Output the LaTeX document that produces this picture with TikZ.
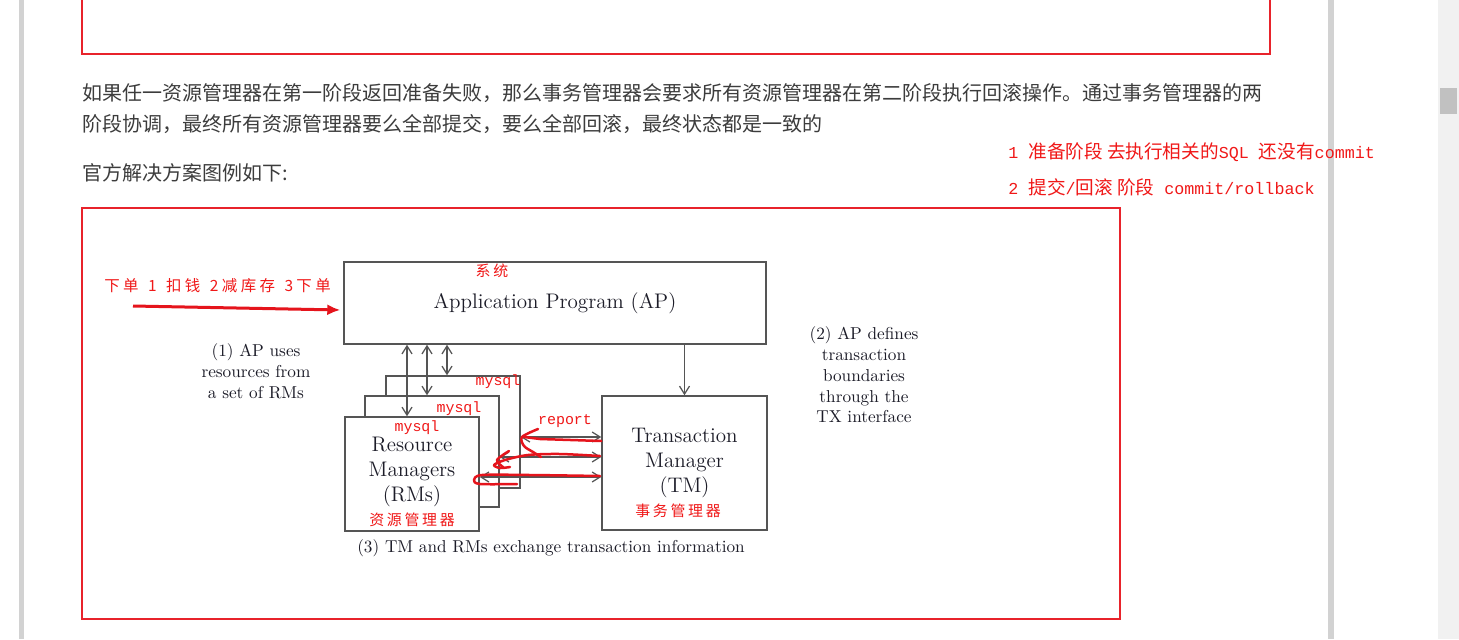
\documentclass[tikz,border=0pt]{standalone}
\usepackage{fontspec}
\newfontfamily\cjk{Noto Sans CJK SC}
\newfontfamily\cjkancho[LetterSpace=18]{Noto Sans CJK SC}
\newfontfamily\cjkabierto[LetterSpace=22]{Noto Sans CJK SC}
\newfontfamily\mono{Liberation Mono}
\usetikzlibrary{arrows.meta,positioning,calc}
\definecolor{RojoMarco}{HTML}{E8232B}
\definecolor{RojoNota}{HTML}{F01818}
\definecolor{RojoTrazo}{HTML}{E5141C}
\definecolor{GrisLinea}{HTML}{555555}
\definecolor{GrisTexto}{HTML}{1C1C28}
\definecolor{Parrafo}{HTML}{3C3C3C}
\definecolor{Barra}{HTML}{D2D2D2}
\definecolor{Pista}{HTML}{F1F1F1}
\definecolor{Pulgar}{HTML}{C1C1C1}
\newcommand\zh[1]{{\cjk\fontsize{10.6}{12}\selectfont #1}}

\begin{document}
\begin{tikzpicture}[
    x=0.02cm,y=-0.02cm,
    caja/.style={draw=GrisLinea,line width=0.03cm,fill=white,align=center,text=GrisTexto,inner sep=0pt,font=\fontsize{12}{14.2}\selectfont},
    texto/.style={align=center,text=GrisTexto,inner sep=0pt,font=\fontsize{12}{14.2}\selectfont},
    nota/.style={align=center,text=GrisTexto,inner sep=0pt,font=\fontsize{9.8}{11.8}\selectfont},
    parrafo/.style={anchor=west,inner sep=0pt,text=Parrafo,font=\cjk\fontsize{11.38}{14}\selectfont},
    rojo/.style={inner sep=0pt,text=RojoNota},
    rojozh/.style={rojo,font=\cjkancho\fontsize{8.5}{10}\selectfont},
    mysql/.style={rojo,font=\mono\fontsize{8.5}{10}\selectfont},
    flecha/.style={-{Straight Barb[length=1.6mm,width=2mm]},draw=GrisLinea,line width=0.025cm},
    flechadoble/.style={{Straight Barb[length=1.6mm,width=2mm]}-{Straight Barb[length=1.6mm,width=2mm]},draw=GrisLinea,line width=0.025cm},
    flecharoja/.style={-{Latex[length=2.6mm,width=2.2mm]},draw=RojoTrazo,line width=0.06cm},
    trazo/.style={draw=RojoTrazo,line width=0.05cm,line cap=round,line join=round}]
    \useasboundingbox[fill=white] (0,0) rectangle (1459,639);
    % page chrome
    \fill[Barra] (19,0) rectangle (24,639);
    \fill[Barra] (1328,0) rectangle (1334,639);
    \fill[Pista] (1438,0) rectangle (1459,639);
    \fill[Pulgar] (1440,88) rectangle (1457,114);
    \draw[RojoMarco,line width=0.05cm] (82,-5) -- (82,54) -- (1270,54) -- (1270,-5);
    % text of the page
    \node[parrafo] (linea1) at (82,93) {如果任一资源管理器在第一阶段返回准备失败，那么事务管理器会要求所有资源管理器在第二阶段执行回滚操作。通过事务管理器的两};
    \node[parrafo] (linea2) at (82,124) {阶段协调，最终所有资源管理器要么全部提交，要么全部回滚，最终状态都是一致的};
    \node[parrafo] (titulo) at (82,173) {官方解决方案图例如下:};
    \node[rojo,anchor=west,font=\mono\fontsize{9.5}{11}\selectfont] (fase1) at (1008,152) {1 \zh{准备阶段 去执行相关的}SQL \zh{还没有}commit};
    \node[rojo,anchor=west,font=\mono\fontsize{9.5}{11}\selectfont] (fase2) at (1008,187) {2 \zh{提交}/\zh{回滚 阶段} commit/rollback};
    \draw[RojoMarco,line width=0.05cm] (82,208) rectangle (1120,619);
    % boxes
    \node[caja,minimum width=8.44cm,minimum height=1.64cm] (ap) at (555,303) {Application Program (AP)};
    \node[caja,minimum width=2.68cm,minimum height=2.24cm] (rmatras) at (453,432) {};
    \node[caja,minimum width=2.68cm,minimum height=2.22cm] (rmmedio) at (432,451.5) {};
    \node[caja,minimum width=2.68cm,minimum height=2.28cm] (rm) at (412,474) {};
    \node[texto] (rmtexto) at (412,472) {Resource\\Managers\\(RMs)};
    \node[caja,minimum width=3.3cm,minimum height=2.68cm] (tm) at (684.5,463) {Transaction\\Manager\\(TM)};
    \node[nota] (nota1) at (256,371) {(1) AP uses\\resources from\\a set of RMs};
    \node[nota] (nota2) at (864,375) {(2) AP defines\\transaction\\boundaries\\through the\\TX interface};
    \node[nota] (nota3) at (551,548) {(3) TM and RMs exchange transaction information};
    % connectors
    \coordinate (v1) at (407,0);
    \coordinate (v2) at (427,0);
    \coordinate (v3) at (447,0);
    \coordinate (h1) at (0,437);
    \coordinate (h2) at (0,457);
    \coordinate (h3) at (0,477);
    \draw[flechadoble] (ap.south -| v1) -- (rm.north -| v1);
    \draw[flechadoble] (ap.south -| v2) -- (rmmedio.north -| v2);
    \draw[flechadoble] (ap.south -| v3) -- (rmatras.north -| v3);
    \draw[flecha] (ap.south -| tm.north) -- (tm.north);
    \draw[flechadoble] (rmatras.east |- h1) -- (tm.west |- h1);
    \draw[flechadoble] (rmmedio.east |- h2) -- (tm.west |- h2);
    \draw[flechadoble] (rm.east |- h3) -- (tm.west |- h3);
    % red notes
    \coordinate (inicio) at (133,306);
    \node[rojo,anchor=west,font=\cjkabierto\fontsize{8.8}{10}\selectfont] (pedido) at (104,286) {下单\, 1\, 扣钱\, 2减库存\, 3下单};
    \draw[flecharoja] (inicio) -- ([yshift=-0.14cm,xshift=-0.06cm]ap.west);
    \node[rojozh] (sistema) at (492,271) {系统};
    \node[mysql] (mysql3) at (498,382) {mysql};
    \node[mysql] (mysql2) at (459,409) {mysql};
    \node[mysql] (mysql1) at (417,428) {mysql};
    \node[mysql] (report) at (565,421) {report};
    \node[rojozh] (rmzh) at (412,520) {资源管理器};
    \node[rojozh] (tmzh) at (678,511) {事务管理器};
    \draw[trazo] (tm.west |- 0,441) -- (540,439) -- (524,437);
    \draw[trazo] plot[smooth] coordinates {(538,429) (522,437) (524,446) (533,452) (541,457)};
    \draw[trazo] plot[smooth] coordinates {(600,456) (560,454) (528,455) (505,460) (494,465) (500,468) (510,467)};
    \draw[trazo] plot[smooth] coordinates {(509,451) (497,460) (503,467)};
    \draw[trazo] plot[smooth] coordinates {(600,476) (530,475) (482,475) (474,480) (480,484) (517,484)};
\end{tikzpicture}
\end{document}
